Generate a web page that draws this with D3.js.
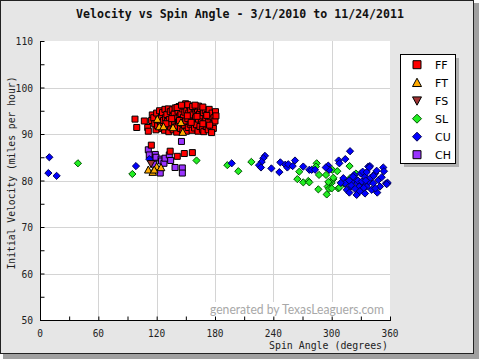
<!DOCTYPE html>
<html><head><meta charset="utf-8">
<script src="https://cdn.jsdelivr.net/npm/d3@7"></script>
<style>html,body{margin:0;padding:0;background:#fff;}svg{display:block;}</style>
</head><body>
<svg id="c" width="480" height="360"></svg>
<script>
// ---- data: [spin angle (deg), velocity (mph)] ----
const pitchTypes = ["FF","FT","FS","SL","CU","CH"];
const FF = [[97.7,93.2],[99.5,91.4],[107.3,92.8],[110.8,91.4],[111.4,90.6],[115.5,94.1],[114.8,92.9],
[117,93.5],[118,92.2],[119.3,90.9],[120,94.5],[121,91.8],[122,93.0],[123,95.0],[124,92.4],[125,93.7],[125.5,91.2],[126,94.6],[127,92.9],[128,90.8],[128.5,95.3],[129,93.5],[130,91.9],[130.5,94.2],[131,92.7],[132,95.4],[132.5,90.5],
[133,93.1],[134,94.8],[134.5,91.5],[135,92.4],[136,95.2],[136.5,93.8],[137,90.9],[138,94.3],[138.5,92.0],[139,95.6],[140,93.4],[140.6,90.4],[141,91.7],[142,94.9],[142.5,92.6],[143,95.9],[144,93.9],[144.5,91.2],[145,94.4],[146,92.3],[146.5,95.4],[147,90.7],[147.5,93.6],[148,96.0],[148.5,91.9],[149,94.7],[149.8,96.5],[150,92.8],[150.5,90.6],[151,95.1],
[152,93.3],[152.5,91.4],[153,94.5],[154,96.0],[154.5,92.1],[155,95.2],[156,93.8],[156.5,90.8],[157,94.1],[158,92.6],[158.5,95.6],[159,91.3],[160,93.5],[160.5,94.9],[161,92.0],[162,95.3],[162.5,90.6],[163,93.2],[164,94.3],[164.5,91.6],[165,95.5],[166,92.9],[166.5,93.9],[167,91.0],[168,94.6],[168.5,90.5],[169,92.4],[170,95.0],[170.5,93.3],[171,91.6],
[172,94.2],[173,90.9],[173.5,92.6],[174,95.3],[175,93.7],[176,91.4],[177,94.5],[178,92.2],[178.3,91.2],[179,93.5],[180,92.8],[180.5,94.8],[176.5,90.3],[181,93.9],
[141,95.7],[145.5,96.2],[152,96.3],[157,95.9],[163,96.0],[167.5,95.8],[159.5,96.2],[129.5,92.2],[135.5,93.3],[143.5,92.9],[151.5,93.9],[155.5,92.5],[161.5,93.8],[167.5,92.2],[171.5,94.0],[174.5,91.9],
[114.5,87.6],[133.9,86.3],[141.2,85.2],[148.4,85.8],[156.7,86.0]];
const FT = [[120.7,93.2],[122.7,91.6],[127,91.6],[136.8,91.4],[145,92.5],[146.8,90.4],
[111.4,82.3],[116,81.8],[120,83.0],[124.5,82.8],[117.5,82.3]];
const FS = [[114.2,83.6]];
const SL = [[39,83.7],[95,81.4],[161,84.3],[192.7,83.3],[204,82.0],[217.4,84.0],[264.7,80.3],[266.7,81.9],[270.8,79.6],[276,79.9],[277,79.6],[284.6,83.7],[283.9,83.0],[287,81.2],[300.7,82.3],[294.2,81.2],[318.4,83.1],[305.8,82.0],[301.7,80.3],[300,79.5],[297.6,79.5],[295.9,78.7],[297.3,78.2],[286.3,78.1],[306.8,78.3],[313,79.3],[320.6,79.7],[325,81.5],[294.9,77.0],[296.6,79.7],[301.7,80.6],[307.9,78.5],[318.9,80.5],[300,78.3]];
const CU = [[9.6,85.0],[8.6,81.6],[17.1,81.0],[98.7,83.1],[112.4,84.6],
[197.2,83.7],[231.4,85.3],[229.7,84.8],[228,84.0],[225.3,83.3],[227.3,82.8],[238,82.6],[247.2,83.9],[246.2,81.8],[252.3,83.4],[254.4,82.8],[255.4,83.5],[262.3,84.3],[259.9,83.1],[270.8,83.0],[277,82.3],[279.4,82.3],[282.9,82.3],[296.5,83.2],[297.6,82.3],[293.9,82.8],[307.2,84.3],[307.9,83.7],[318.9,86.3],[314,84.6],
[312,80.5],[313.7,79.4],[315.5,78.0],[319.6,78.7],[321.6,79.7],[323,81.2],[325,80.3],[326.4,79.4],[328.4,78.7],[330.9,78.0],[332.6,79.4],[329.9,81.5],[334.3,80.8],[336,78.7],[338.7,79.7],[337.7,83.0],[339.4,83.1],[341.2,78.0],[342.8,79.4],[344.6,81.5],[346.3,82.1],[346.9,77.4],[348,80.1],[349.7,78.7],[351.5,80.7],[353.1,82.8],[355.9,79.4],[357.6,79.5],[325.7,76.9],[334.3,77.2],[318.2,77.4],[309.3,79.5],
[331.9,81.9],[338.7,82.8],[353.8,82.0],[356.6,79.2],[320,79.0],[324,78.2],[327,80.0],[331,79.8],[333,78.4],[335,80.0],[329,77.7],[322,80.8],[318,80.0],[336,81.8],[340,80.6],[343,81.0],[345,78.3]];
const CH = [[111.4,86.6],[112.4,85.5],[116.5,84.4],[118.6,85.6],[119.3,85.0],[117,83.5],[124.5,84.6],[125,84.2],[127.5,83.7],[128.6,84.8],[133,85.5],[134.4,84.3],[123.7,81.6],[138.9,82.8],[146.4,82.7],[146.4,81.6],[145.5,88.4]];
const xTicks = [0,60,120,180,240,300,360];
const yTicks = [50,60,70,80,90,100,110];
const titleText = "Velocity vs Spin Angle - 3/1/2010 to 11/24/2011";
const xLabel = "Spin Angle (degrees)";
const yLabel = "Initial Velocity (miles per hour)";
const watermark = "generated by TexasLeaguers.com";

const series = {FF, FT, FS, SL, CU, CH};
const styles = {
  FF:{shape:"square", fill:"#ff0000", stroke:"#000"},
  FT:{shape:"up", fill:"#ffaa00", stroke:"#000"},
  FS:{shape:"down", fill:"#a03333", stroke:"#000"},
  SL:{shape:"diamond", fill:"#22ee22", stroke:"#005500"},
  CU:{shape:"diamond", fill:"#0000ff", stroke:"#000055"},
  CH:{shape:"square", fill:"#9933ff", stroke:"#000"}
};
function shapePath(shape, r){
  if(shape==="square") return `M${-r},${-r}H${r}V${r}H${-r}Z`;
  if(shape==="diamond") return `M0,${-r}L${r},0L0,${r}L${-r},0Z`;
  if(shape==="up") return `M0,${-r}L${r},${r*0.85}L${-r},${r*0.85}Z`;
  if(shape==="down") return `M0,${r}L${r},${-r*0.85}L${-r},${-r*0.85}Z`;
}

const svg = d3.select("#c");
const mono = "'DejaVu Sans Mono','Liberation Mono',monospace";
// frame + shadow
svg.append("rect").attr("x",3).attr("y",3).attr("width",476).attr("height",356).attr("fill","#a0a0a0");
svg.append("rect").attr("x",0.5).attr("y",0.5).attr("width",473).attr("height",353)
  .attr("fill","#e6e6e6").attr("stroke","#222");

const L=40, R=390, T=41, B=320;
const x = d3.scaleLinear().domain([0,360]).range([L,R]);
const y = d3.scaleLinear().domain([50,110]).range([B,T]);

svg.append("rect").attr("x",L).attr("y",T).attr("width",R-L).attr("height",B-T).attr("fill","#fff");
// grid
const g = svg.append("g");
g.selectAll(".gx").data(xTicks.slice(1,-1)).join("line")
  .attr("x1",d=>Math.round(x(d))+0.5).attr("x2",d=>Math.round(x(d))+0.5).attr("y1",T).attr("y2",B)
  .attr("stroke","#d4d4d4");
g.selectAll(".gy").data(yTicks.slice(1,-1)).join("line")
  .attr("y1",d=>Math.round(y(d))+0.5).attr("y2",d=>Math.round(y(d))+0.5).attr("x1",L).attr("x2",R)
  .attr("stroke","#d4d4d4");

// watermark
svg.append("rect").attr("x",206).attr("y",302).attr("width",182).attr("height",16).attr("fill","#fff");
svg.append("text").attr("x",210).attr("y",314).text(watermark)
  .attr("font-family","'Lato','DejaVu Sans',sans-serif").attr("font-size",13).attr("fill","#a8a8a8")
  .attr("textLength",174).attr("lengthAdjust","spacingAndGlyphs");

// axes (ticks inward, labels separate)
const xAxis = d3.axisTop(x).tickValues(d3.range(0,361,30)).tickSize(4).tickFormat("");
svg.append("g").attr("transform",`translate(0,${B+0.5})`).call(xAxis)
  .call(a=>{a.select(".domain").remove(); a.selectAll("line").attr("stroke","#000");});
const yAxis = d3.axisRight(y).tickValues(d3.range(50,111,5)).tickSize(4).tickFormat("");
svg.append("g").attr("transform",`translate(${L+0.5},0)`).call(yAxis)
  .call(a=>{a.select(".domain").remove(); a.selectAll("line").attr("stroke","#000");});
svg.append("line").attr("x1",L+0.5).attr("x2",L+0.5).attr("y1",T).attr("y2",B+1).attr("stroke","#000");
svg.append("line").attr("x1",L).attr("x2",R+1).attr("y1",B+0.5).attr("y2",B+0.5).attr("stroke","#000");

// tick labels
svg.append("g").selectAll("text").data(xTicks).join("text")
  .attr("x",d=>x(d)).attr("y",337).attr("text-anchor","middle").text(d=>d)
  .attr("font-family",mono).attr("font-size",10.5).attr("fill","#222")
  .attr("textLength",d=>String(d).length*5.7).attr("lengthAdjust","spacingAndGlyphs");
svg.append("g").selectAll("text").data(yTicks).join("text")
  .attr("x",33).attr("y",d=>y(d)+4).attr("text-anchor","end").text(d=>d)
  .attr("font-family",mono).attr("font-size",10.5).attr("fill","#222")
  .attr("textLength",d=>String(d).length*5.8).attr("lengthAdjust","spacingAndGlyphs");

// title & axis titles
svg.append("text").attr("x",240).attr("y",18).attr("text-anchor","middle").text(titleText)
  .attr("font-family",mono).attr("font-weight","bold").attr("font-size",12).attr("fill","#111")
  .attr("textLength",328).attr("lengthAdjust","spacingAndGlyphs");
svg.append("text").attr("x",388).attr("y",349).attr("text-anchor","end").text(xLabel)
  .attr("font-family",mono).attr("font-size",10.5).attr("fill","#222")
  .attr("textLength",119).attr("lengthAdjust","spacingAndGlyphs");
svg.append("text").attr("transform","translate(15,173) rotate(-90)").attr("text-anchor","middle").text(yLabel)
  .attr("font-family",mono).attr("font-size",10.5).attr("fill","#222")
  .attr("textLength",193).attr("lengthAdjust","spacingAndGlyphs");

// points
const drawOrder = ["CH","SL","CU","FF","FS","FT"];
const marks = svg.append("g");
drawOrder.forEach(k=>{
  const st = styles[k];
  const r = st.shape==="diamond"?3.6:(st.shape==="square"?3:3.8);
  marks.append("g").selectAll("path").data(series[k]).join("path")
    .attr("transform",d=>`translate(${x(d[0])},${y(d[1])})`)
    .attr("d",shapePath(st.shape,r))
    .attr("fill",st.fill).attr("stroke",st.stroke).attr("stroke-width",1);
});

// legend
const lg = svg.append("g");
lg.append("rect").attr("x",404).attr("y",58).attr("width",55).attr("height",109).attr("fill","#b0b0b0");
lg.append("rect").attr("x",400.5).attr("y",54.5).attr("width",55).attr("height",109).attr("fill","#fff").attr("stroke","#000");
const rows = lg.selectAll("g.row").data(pitchTypes).join("g")
  .attr("transform",(d,i)=>`translate(0,${64.7+i*18})`);
rows.append("path").attr("transform","translate(417,0)")
  .attr("d",d=>shapePath(styles[d].shape, styles[d].shape==="square"?4:4.5))
  .attr("fill",d=>styles[d].fill).attr("stroke",d=>styles[d].stroke);
rows.append("text").attr("x",435).attr("y",4).text(d=>d)
  .attr("font-family","'DejaVu Sans',sans-serif").attr("font-size",11).attr("fill","#000");
</script>
</body></html>
